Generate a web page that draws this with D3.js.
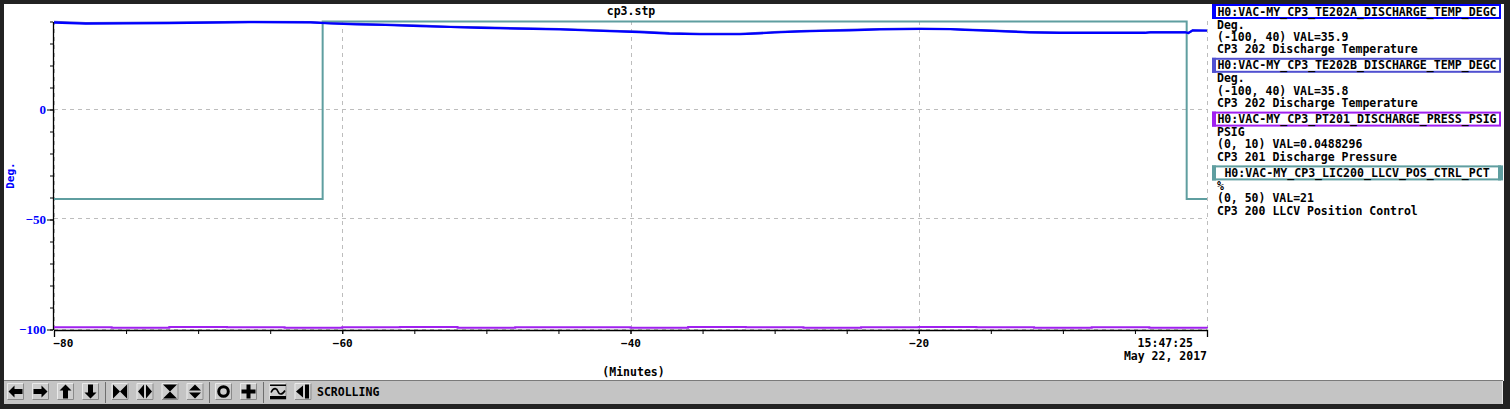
<!DOCTYPE html>
<html>
<head>
<meta charset="utf-8" />
<title>cp3.stp</title>
<script src="https://d3js.org/d3.v7.min.js"></script>
<style>
  body {margin: 0; background: #222;}
  svg text {font-family: "DejaVu Sans Mono", monospace; font-weight: bold;}
</style>
</head>
<body>
<svg id="chart" width="1510" height="409"></svg>
<script>
// ---- data (x in minutes before 15:47:25) ----
var minutesA = [-80, -77.8, -72.1, -66.4, -62.2, -60.8, -59.0, -57.0, -54.6, -52.5, -50.4, -47.7, -44.9, -42.8,
                -41.4, -39.4, -37.3, -35.2, -32.4, -31.0, -30.0, -28.2, -26.2, -24.8, -22.7, -19.9, -17.8, -16.8,
                -15.7, -14.4, -12.3, -10.2, -4.3, -3.9, -1.5, -1.3, -1.0, 0];
var tempA = [39.5, 39.0, 39.3, 39.7, 39.6, 39.1, 38.7, 38.4, 37.9, 37.5, 37.1, 36.8, 36.4, 35.9,
             35.6, 35.2, 34.5, 34.2, 34.2, 34.6, 35.0, 35.5, 35.8, 36.0, 36.4, 36.6, 36.5, 36.2,
             36.0, 35.6, 35.1, 34.8, 34.8, 35.1, 35.1, 34.7, 36.0, 35.9];
var tempB = [39.8, 39.3, 39.5, 39.8, 39.7, 39.3, 38.9, 38.6, 38.1, 37.6, 37.3, 36.9, 36.6, 36.1,
             35.8, 35.4, 34.7, 34.4, 34.4, 34.8, 35.2, 35.6, 36.0, 36.2, 36.6, 36.8, 36.6, 36.3,
             36.1, 35.7, 35.2, 34.9, 34.9, 35.2, 35.2, 34.8, 35.9, 35.8];

var minutesP = [-80, -76, -72, -68, -64, -60, -56, -52, -48, -44, -40, -36, -32, -28, -24, -20, -16, -12, -8, -4, 0];
var pressP = [0.07, 0.06, 0.08, 0.07, 0.06, 0.07, 0.08, 0.06, 0.07, 0.07, 0.06, 0.08, 0.07, 0.06, 0.07, 0.08,
              0.07, 0.06, 0.07, 0.06, 0.05];

var minutesL = [-80, -61.36, -1.41, 0];
var llcvL = [21.2, 50, 21.2, 21.2];

var xTickLabels = [-80, -60, -40, -20];
var yTickLabels = [0, -50, -100];

var legendNames = ["H0:VAC-MY_CP3_TE202A_DISCHARGE_TEMP_DEGC", "H0:VAC-MY_CP3_TE202B_DISCHARGE_TEMP_DEGC",
                   "H0:VAC-MY_CP3_PT201_DISCHARGE_PRESS_PSIG", "H0:VAC-MY_CP3_LIC200_LLCV_POS_CTRL_PCT"];
var legendUnits = ["Deg.", "Deg.", "PSIG", "%"];
var legendRanges = ["(-100, 40)", "(-100, 40)", "(0, 10)", "(0, 50)"];
var legendVals = ["35.9", "35.8", "0.0488296", "21"];
var legendDesc = ["CP3 202 Discharge Temperature", "CP3 202 Discharge Temperature",
                  "CP3 201 Discharge Pressure", "CP3 200 LLCV Position Control"];
var colors = ["#0000ff", "#5050d0", "#a020f0", "#5f9ea0"];

var svg = d3.select("#chart");

// window frame
svg.append("rect").attr("x", 4).attr("y", 4).attr("width", 1500).attr("height", 377).attr("fill", "#fff");

var x = d3.scaleLinear().domain([-80, 0]).range([54, 1207]);
var yDeg = d3.scaleLinear().domain([-100, 40]).range([329.5, 21.5]);
var yPress = d3.scaleLinear().domain([0, 10]).range([329.5, 21.5]);
var yLlcv = d3.scaleLinear().domain([0, 50]).range([329.5, 21.5]);

// grid
var grid = svg.append("g").attr("stroke", "#bdbdbd").attr("stroke-dasharray", "4,4").attr("stroke-width", 1);
grid.selectAll("line.h").data(yTickLabels).enter().append("line")
    .attr("x1", 54).attr("x2", 1207)
    .attr("y1", function(d) { return Math.round(yDeg(d)) - 0.5; })
    .attr("y2", function(d) { return Math.round(yDeg(d)) - 0.5; });
grid.selectAll("line.v").data(xTickLabels.concat([0])).enter().append("line")
    .attr("y1", 21).attr("y2", 330)
    .attr("x1", function(d) { return Math.round(x(d)) + 0.5; })
    .attr("x2", function(d) { return Math.round(x(d)) + 0.5; });

// axes
var yMinor = svg.append("g").attr("transform", "translate(53,0)")
    .call(d3.axisLeft(yDeg).tickValues(d3.range(-100, 41, 10)).tickSize(3).tickSizeOuter(0).tickFormat(""));
var yMajor = svg.append("g").attr("transform", "translate(53,0)")
    .call(d3.axisLeft(yDeg).tickValues(yTickLabels).tickSize(6).tickSizeOuter(0).tickPadding(1));
yMajor.select(".domain").remove();
yMajor.selectAll("text").attr("fill", "#0000ff")
    .style("font-family", "'Liberation Serif', serif").style("font-size", "13px").style("font-weight", "bold");
yMajor.selectAll("text").text(function(d) { return d3.format("")(d).replace("-", "\u2013"); });

var xMinor = svg.append("g").attr("transform", "translate(0,330)")
    .call(d3.axisBottom(x).tickValues(d3.range(-80, 1, 5)).tickSize(4).tickSizeOuter(7).tickFormat(""));
var xMajor = svg.append("g").attr("transform", "translate(0,330)")
    .call(d3.axisBottom(x).tickValues(xTickLabels).tickSize(4).tickPadding(5));
xMajor.select(".domain").remove();
xMajor.selectAll("text").attr("fill", "#000").style("font-size", "11px")
    .text(function(d) { return d3.format("")(d).replace("-", "\u2013"); });
xMajor.selectAll("text").filter(function(d) { return d === -80; }).attr("text-anchor", "start").attr("x", -1);
svg.selectAll(".domain").attr("stroke", "#000").attr("stroke-width", 1.3);
svg.selectAll(".tick line").attr("stroke", "#000");
svg.append("line").attr("x1", 1207.5).attr("x2", 1207.5).attr("y1", 330).attr("y2", 337).attr("stroke", "#000");

// series
var lineL = d3.line().curve(d3.curveStepAfter)
    .x(function(d, i) { return x(minutesL[i]); }).y(function(d) { return yLlcv(d); });
var lineP = d3.line().curve(d3.curveStepAfter)
    .x(function(d, i) { return x(minutesP[i]); }).y(function(d) { return yPress(d); });
var lineT = d3.line()
    .x(function(d, i) { return x(minutesA[i]); }).y(function(d) { return yDeg(d); });

svg.append("path").datum(llcvL).attr("d", lineL).attr("fill", "none").attr("stroke", colors[3]).attr("stroke-width", 2);
svg.append("path").datum(pressP).attr("d", lineP).attr("fill", "none").attr("stroke", colors[2]).attr("stroke-width", 2);
svg.append("path").datum(tempB).attr("d", lineT).attr("fill", "none").attr("stroke", colors[1]).attr("stroke-width", 2.2);
svg.append("path").datum(tempA).attr("d", lineT).attr("fill", "none").attr("stroke", colors[0]).attr("stroke-width", 2.2);

// titles
svg.append("text").attr("x", 631).attr("y", 15).attr("text-anchor", "middle").style("font-size", "11.5px").text("cp3.stp");
svg.append("text").attr("transform", "translate(14,175.5) rotate(-90)").attr("text-anchor", "middle")
    .attr("fill", "#0000ff").style("font-size", "11px").text("Deg.");
svg.append("text").attr("x", 1193).attr("y", 347).attr("text-anchor", "end").style("font-size", "11.5px").text("15:47:25");
svg.append("text").attr("x", 1207).attr("y", 359.5).attr("text-anchor", "end").style("font-size", "11.5px").text("May 22, 2017");
svg.append("text").attr("x", 633.5).attr("y", 375.5).attr("text-anchor", "middle").style("font-size", "11.5px").text("(Minutes)");

// legend
var leg = svg.selectAll("g.leg").data(legendNames).enter().append("g").attr("class", "leg")
    .attr("transform", function(d, i) { return "translate(0," + (4 + i * 53.8) + ")"; });
leg.append("rect").attr("x", 1213).attr("y", 1).attr("width", 287).attr("height", 13)
    .attr("fill", "#fff").attr("stroke", function(d, i) { return colors[i]; }).attr("stroke-width", 2);
leg.append("rect").attr("x", 1212).attr("y", 0).attr("width", 4).attr("height", 15)
    .attr("fill", function(d, i) { return colors[i]; });
leg.filter(function(d, i) { return i === 3; }).append("rect").attr("x", 1498).attr("y", 0).attr("width", 5).attr("height", 15)
    .attr("fill", colors[3]);
leg.append("text").attr("x", 1357).attr("y", 11.5).attr("text-anchor", "middle").style("font-size", "11.6px")
    .text(function(d) { return d; });
leg.append("text").attr("x", 1217).attr("y", 24.5).style("font-size", "11.5px").text(function(d, i) { return legendUnits[i]; });
leg.append("text").attr("x", 1217).attr("y", 36.8).style("font-size", "11.5px")
    .text(function(d, i) { return legendRanges[i] + " VAL=" + legendVals[i]; });
leg.append("text").attr("x", 1217).attr("y", 49.3).style("font-size", "11.5px").text(function(d, i) { return legendDesc[i]; });

// toolbar
var tb = svg.append("g");
tb.append("rect").attr("x", 4).attr("y", 380).attr("width", 1499).attr("height", 24).attr("fill", "#c4c4c4");
tb.append("line").attr("x1", 4).attr("x2", 1503).attr("y1", 380.5).attr("y2", 380.5).attr("stroke", "#7a7a7a");
tb.append("line").attr("x1", 1502.5).attr("x2", 1502.5).attr("y1", 381).attr("y2", 404).attr("stroke", "#e6e6e6");
[105.5, 209.5, 263.5].forEach(function(sx) {
  tb.append("line").attr("x1", sx).attr("x2", sx).attr("y1", 382).attr("y2", 403).attr("stroke", "#6e6e6e");
});
var btnX = [7, 32, 57, 82, 111.5, 136.5, 161.5, 186.5, 215, 240, 269.5, 294.5];
var icons = [
  function(c) { return "M-7,0 L-1,-6 L-1,-2.5 L7,-2.5 L7,2.5 L-1,2.5 L-1,6 Z"; },
  function(c) { return "M7,0 L1,-6 L1,-2.5 L-7,-2.5 L-7,2.5 L1,2.5 L1,6 Z"; },
  function(c) { return "M0,-7 L-6,-1 L-2.5,-1 L-2.5,7 L2.5,7 L2.5,-1 L6,-1 Z"; },
  function(c) { return "M0,7 L-6,1 L-2.5,1 L-2.5,-7 L2.5,-7 L2.5,1 L6,1 Z"; },
  function(c) { return "M-7,-7 L0,0 L-7,7 Z M7,-7 L0,0 L7,7 Z"; },
  function(c) { return "M-1,-7 L-7,0 L-1,7 Z M1,-7 L7,0 L1,7 Z"; },
  function(c) { return "M-7,-7 L7,-7 L0,0 Z M-7,7 L7,7 L0,0 Z"; },
  function(c) { return "M-6,-1 L6,-1 L0,-7 Z M-6,1 L6,1 L0,7 Z"; },
  null,
  function(c) { return "M-2,-7 L2,-7 L2,-2 L7,-2 L7,2 L2,2 L2,7 L-2,7 L-2,2 L-7,2 L-7,-2 L-2,-2 Z"; },
  null,
  function(c) { return "M-7,0 L0,-6 L0,6 Z M2,-7 L6,-7 L6,7 L2,7 Z"; }
];
btnX.forEach(function(bx, i) {
  var g = tb.append("g").attr("transform", "translate(" + bx + ",383)");
  g.append("rect").attr("width", 17).attr("height", 17).attr("fill", "#cdcdcd");
  g.append("path").attr("d", "M0.5,16.5 L0.5,0.5 L16.5,0.5").attr("fill", "none").attr("stroke", "#eaeaea");
  g.append("path").attr("d", "M0.5,16.5 L16.5,16.5 L16.5,0.5").attr("fill", "none").attr("stroke", "#8a8a8a");
  var ic = g.append("g").attr("transform", "translate(8.5,8.5)");
  if (icons[i]) {
    ic.append("path").attr("d", icons[i]()).attr("fill", "#000");
  } else if (i === 8) {
    ic.append("circle").attr("r", 4.8).attr("fill", "none").attr("stroke", "#000").attr("stroke-width", 3);
  } else {
    ic.append("rect").attr("x", -8).attr("y", -7).attr("width", 16).attr("height", 1.5).attr("fill", "#000");
    ic.append("path").attr("d", "M-7,1 C-4,-5 -1,-3 0,0 C1,3 4,4 7,-1").attr("fill", "none").attr("stroke", "#000").attr("stroke-width", 1.6);
    ic.append("rect").attr("x", -8).attr("y", 4.5).attr("width", 16).attr("height", 3).attr("fill", "#000");
  }
});
tb.append("text").attr("x", 317).attr("y", 395.5).style("font-size", "11.5px").text("SCROLLING");
</script>
</body>
</html>
